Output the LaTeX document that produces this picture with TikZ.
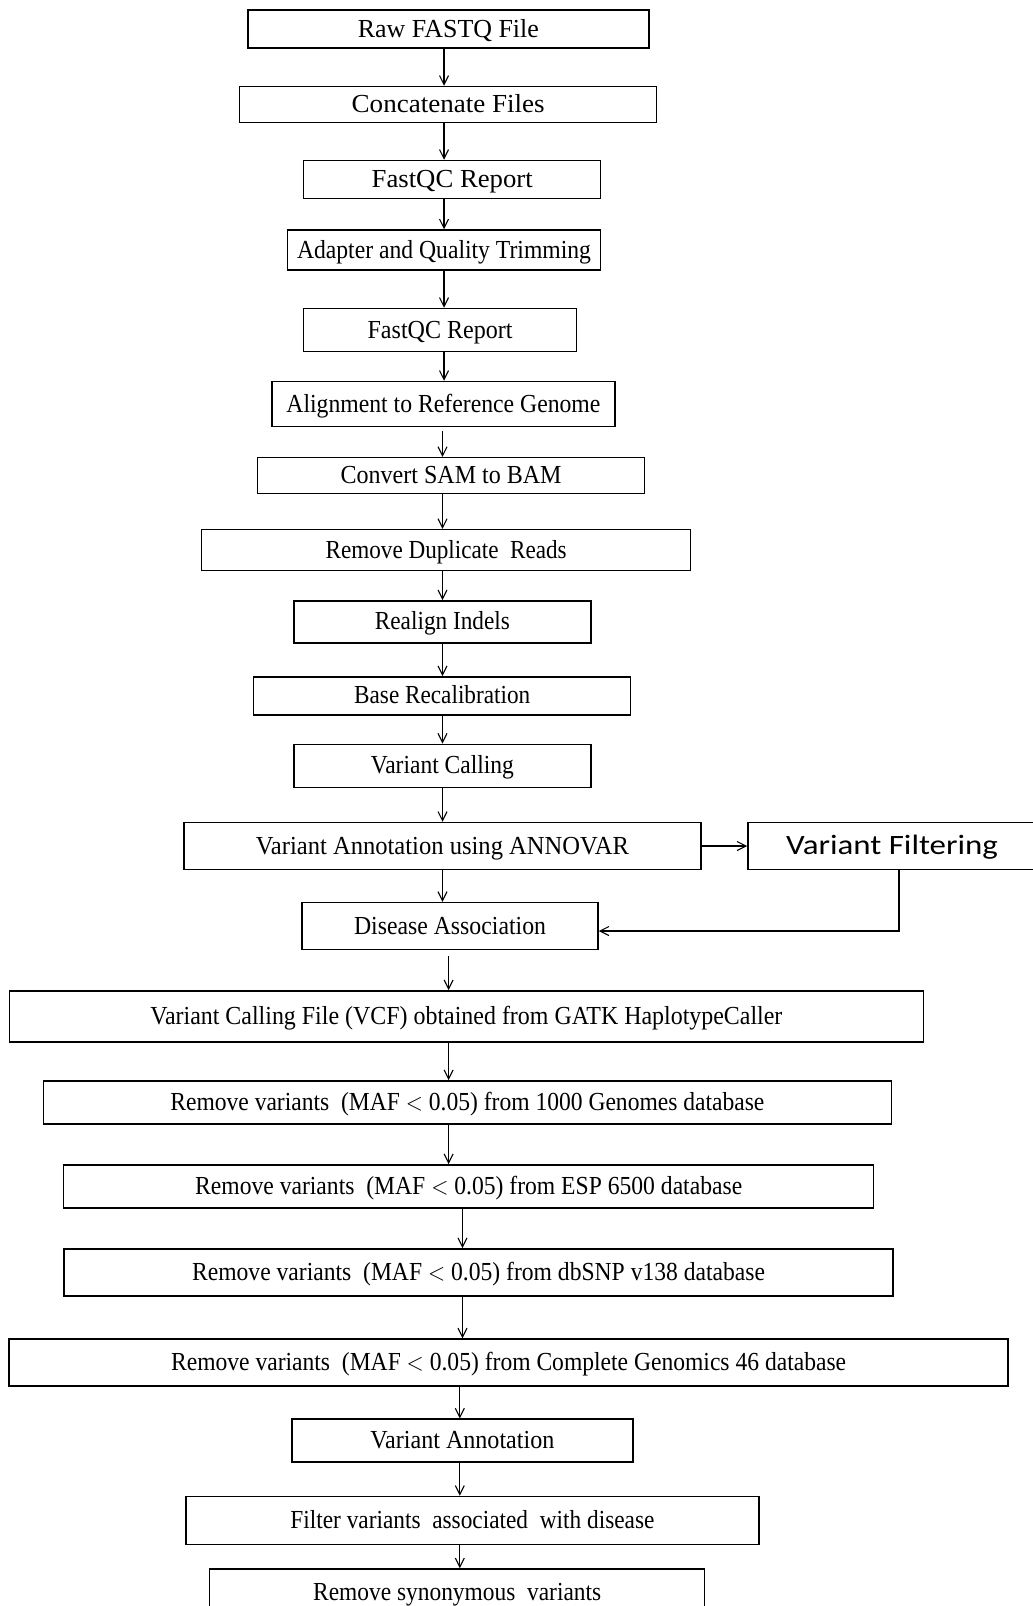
\documentclass[tikz,border=0pt]{standalone}
\usepackage{fontspec}
\setmainfont{Liberation Serif}
\newfontfamily\calibrifont{Carlito}
\usepackage{graphicx}
\usepackage{tikz}
\usetikzlibrary{arrows.meta, positioning}

% squeeze a label to the width it has in the figure
\newcommand{\fitw}[2]{\resizebox{#1pt}{\height}{#2}}

\begin{document}
\begin{tikzpicture}[
  x=1pt, y=-1pt,
  box/.style={rectangle, draw=black, line width=1.5pt, inner sep=0pt, text centered, text height=16pt, text depth=0pt, font=\fontsize{26}{30}\selectfont},
  sbox/.style={box, text height=17pt, font=\calibrifont\fontsize{28}{32}\selectfont},
  arrow/.style={line width=1.1pt, -{Straight Barb[length=9pt, width=9pt]}}
]
\useasboundingbox (0,0) rectangle (1033,1606);

% Read Processing
\node (raw) [box, minimum width=401pt, minimum height=38pt] at (448.4,29.2) {\fitw{181}{Raw FASTQ File}};
\node (concat) [box, minimum width=417pt, minimum height=36pt] at (448.2,104.5) {\fitw{193}{Concatenate Files}};
\node (qc1) [box, minimum width=297pt, minimum height=38pt] at (452.2,179.5) {\fitw{161}{FastQC Report}};
\node (trim) [box, minimum width=313pt, minimum height=40pt] at (444,250) {\fitw{294}{Adapter and Quality Trimming}};
\node (qc2) [box, minimum width=273pt, minimum height=43pt] at (440.1,330) {\fitw{145}{FastQC Report}};
\node (align) [box, minimum width=343pt, minimum height=45pt] at (443.4,404) {\fitw{314}{Alignment to Reference Genome}};
\node (sam) [box, minimum width=387pt, minimum height=36pt] at (451.1,475.7) {\fitw{221}{Convert SAM to BAM}};
\node (dedup) [box, minimum width=489pt, minimum height=41pt] at (446.2,550.2) {\fitw{241}{Remove Duplicate~ Reads}};
\node (indel) [box, minimum width=297pt, minimum height=42pt] at (442.4,621.9) {\fitw{135}{Realign Indels}};
\node (bqsr) [box, minimum width=377pt, minimum height=38pt] at (442.2,695.9) {\fitw{176}{Base Recalibration}};
\node (call) [box, minimum width=297pt, minimum height=43pt] at (442.4,765.8) {\fitw{143}{Variant Calling}};
\node (annovar) [box, minimum width=517pt, minimum height=47pt] at (442.4,846) {\fitw{373}{Variant Annotation using ANNOVAR}};
\node (vfilt) [sbox, minimum width=288pt, minimum height=47pt] at (892,846) {\fitw{212}{Variant Filtering}};
\node (disease) [box, minimum width=296pt, minimum height=47pt] at (450,926) {\fitw{192}{Disease Association}};

% Variant Filtering
\node (vcf) [box, minimum width=914pt, minimum height=51pt] at (466.4,1016.4) {\fitw{632}{Variant Calling File (VCF) obtained from GATK HaplotypeCaller}};
\node (kg) [box, minimum width=848pt, minimum height=43pt] at (467.4,1102.4) {\fitw{594}{Remove variants~ (MAF $<$ 0.05) from 1000 Genomes database}};
\node (esp) [box, minimum width=810pt, minimum height=43pt] at (468.7,1186.4) {\fitw{547}{Remove variants~ (MAF $<$ 0.05) from ESP 6500 database}};
\node (dbsnp) [box, minimum width=829pt, minimum height=47pt] at (478.6,1272.4) {\fitw{573}{Remove variants~ (MAF $<$ 0.05) from dbSNP v138 database}};
\node (cg) [box, minimum width=999pt, minimum height=47pt] at (508.6,1362.5) {\fitw{675}{Remove variants~ (MAF $<$ 0.05) from Complete Genomics 46 database}};
\node (vann) [box, minimum width=341pt, minimum height=43pt] at (462.4,1440.7) {\fitw{184}{Variant Annotation}};
\node (dfilt) [box, minimum width=573pt, minimum height=48pt] at (472.4,1520.5) {\fitw{364}{Filter variants~ associated~ with disease}};
\node (syn) [box, minimum width=495pt, minimum height=46pt] at (457.2,1592) {\fitw{288}{Remove synonymous~ variants}};

% arrow columns
\coordinate (c1) at (444,0);
\coordinate (c2) at (442.5,0);
\coordinate (c3) at (448.6,0);
\coordinate (c4) at (462.5,0);
\coordinate (c5) at (459.8,0);

% Arrows
\draw [arrow] (raw.south -| c1) -- (concat.north -| c1);
\draw [arrow] (concat.south -| c1) -- (qc1.north -| c1);
\draw [arrow] (qc1.south -| c1) -- (trim.north -| c1);
\draw [arrow] (trim.south -| c1) -- (qc2.north -| c1);
\draw [arrow] (qc2.south -| c1) -- (align.north -| c1);
\draw [arrow, shorten <=4pt] (align.south -| c2) -- (sam.north -| c2);
\draw [arrow] (sam.south -| c2) -- (dedup.north -| c2);
\draw [arrow] (dedup.south -| c2) -- (indel.north -| c2);
\draw [arrow] (indel.south -| c2) -- (bqsr.north -| c2);
\draw [arrow] (bqsr.south -| c2) -- (call.north -| c2);
\draw [arrow] (call.south -| c2) -- (annovar.north -| c2);
\draw [arrow] (annovar.south -| c2) -- (disease.north -| c2);
\draw [arrow] (annovar.east) -- (vfilt.west);
\draw [arrow] ([xshift=7pt]vfilt.south) |- ([yshift=-5pt]disease.east);
\draw [arrow, shorten <=6pt] (disease.south -| c3) -- (vcf.north -| c3);
\draw [arrow] (vcf.south -| c3) -- (kg.north -| c3);
\draw [arrow] (kg.south -| c3) -- (esp.north -| c3);
\draw [arrow] (esp.south -| c4) -- (dbsnp.north -| c4);
\draw [arrow] (dbsnp.south -| c4) -- (cg.north -| c4);
\draw [arrow] (cg.south -| c5) -- (vann.north -| c5);
\draw [arrow] (vann.south -| c5) -- (dfilt.north -| c5);
\draw [arrow] (dfilt.south -| c5) -- (syn.north -| c5);
\end{tikzpicture}
\end{document}
